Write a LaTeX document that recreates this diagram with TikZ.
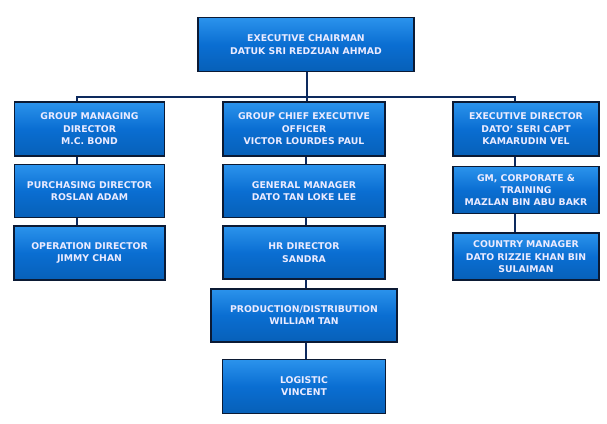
\documentclass[tikz,border=0pt]{standalone}
\usepackage{fontspec}
\setmainfont{DejaVu Sans}
\usepackage{tikz}
\usetikzlibrary{positioning}
\definecolor{boxmid}{HTML}{0A6ED2}
\definecolor{boxtop}{HTML}{2B93EC}
\definecolor{boxbot}{HTML}{0760B8}
\definecolor{boxline}{HTML}{0B1A34}
\definecolor{linkline}{HTML}{0D2A5E}

\begin{document}
\begin{tikzpicture}[x=1pt,y=-1pt,
  post/.style={rectangle, draw=boxline, line width=1.6pt, top color=boxtop, bottom color=boxbot, middle color=boxmid,
    text=white!92!blue, align=center, inner sep=1pt, minimum height=54pt,
    font=\fontsize{9.3}{12.4}\selectfont\bfseries},
  link/.style={draw=linkline, line width=2.2pt},
  node distance=7pt]
\useasboundingbox (0,0) rectangle (607,423);
%Nodes
\node[post, minimum width=216pt] (chair) at (306,44.5) {EXECUTIVE CHAIRMAN\\DATUK SRI REDZUAN AHMAD};

\node[post, minimum width=150pt] (gmd) at (89.5,129) {GROUP MANAGING\\DIRECTOR\\M.C. BOND};
\node[post, minimum width=150pt, minimum height=53pt] (pur) [below=of gmd] {PURCHASING DIRECTOR\\ROSLAN ADAM};
\node[post, minimum width=151pt] (ops) [below=of pur] {OPERATION DIRECTOR\\JIMMY CHAN};

\node[post, minimum width=162pt] (gce) at (304,129) {GROUP CHIEF EXECUTIVE\\OFFICER\\VICTOR LOURDES PAUL};
\node[post, minimum width=162pt, minimum height=53pt] (gm) [below=of gce] {GENERAL MANAGER\\DATO TAN LOKE LEE};
\node[post, minimum width=162pt, minimum height=53pt] (hr) [below=of gm] {HR DIRECTOR\\SANDRA};
\node[post, minimum width=186pt, minimum height=53pt] (prod) [below=8pt of hr] {PRODUCTION/DISTRIBUTION\\WILLIAM TAN};
\node[post, minimum width=163pt] (logi) [below=16pt of prod] {LOGISTIC\\VINCENT};

\node[post, minimum width=146pt] (exd) at (526,129) {EXECUTIVE DIRECTOR\\DATO' SERI CAPT\\KAMARUDIN VEL};
\node[post, minimum width=146pt, minimum height=47pt] (gmc) [below=9pt of exd] {GM, CORPORATE \&\\TRAINING\\MAZLAN BIN ABU BAKR};
\node[post, minimum width=146pt, minimum height=47pt] (cm) [below=18pt of gmc] {COUNTRY MANAGER\\DATO RIZZIE KHAN BIN\\SULAIMAN};

%Lines
\coordinate (bus) at (0,97);
\coordinate (lx) at (77,0);
\coordinate (rx) at (515,0);
\draw[link] (chair.south -| 307,0) -- (gce.north -| 307,0);
\draw[link] (gmd.north -| lx) -- (bus -| lx) -- (bus -| rx) -- (exd.north -| rx);
\draw[link] (gmd.south -| lx) -- (pur.north -| lx);
\draw[link] (pur.south -| lx) -- (ops.north -| lx);
\draw[link] (gce.south -| 306,0) -- (gm.north -| 306,0);
\draw[link] (gm.south -| 306,0) -- (hr.north -| 306,0);
\draw[link] (hr.south -| 306,0) -- (prod.north -| 306,0);
\draw[link] (prod.south -| 306,0) -- (logi.north -| 306,0);
\draw[link] (exd.south -| rx) -- (gmc.north -| rx);
\draw[link] (gmc.south -| rx) -- (cm.north -| rx);

\end{tikzpicture}
\end{document}
